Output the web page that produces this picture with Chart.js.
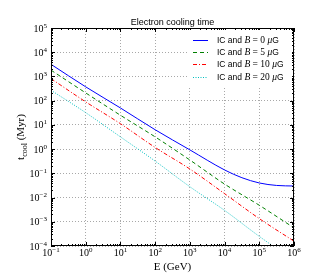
<!DOCTYPE html>
<html><head><meta charset="utf-8">
<script src="https://cdn.jsdelivr.net/npm/chart.js@4"></script>
<style>html,body{margin:0;padding:0;background:#fff}canvas{display:block}</style>
</head><body>
<canvas id="c" width="320" height="280" style="width:320px;height:280px"></canvas>
<script>
// Energies (GeV) at which values were read
const energyGeV = [0.1, 1, 10, 100, 1e3, 1e4, 1e5, 1e6];
const energyBlueGeV = [0.1, 1, 10, 100, 1e3, 1e4, 3.16e4, 1e5, 3.16e5, 1e6];
// Cooling times (Myr)
const tB0 = [3160, 372, 50, 6.3, 0.93, 0.138, 0.066, 0.040, 0.0316, 0.030];
const tB5 = [1820, 209, 25, 3.2, 0.355, 0.036, 0.0048, 0.00056];
const tB10 = [813, 89, 11.2, 1.17, 0.151, 0.0145, 0.00135, 0.000158];
const tB20 = [269, 32, 3.2, 0.32, 0.028, 0.00295, 0.00025, 0.000025];
const fieldLabels = ['0', '5', '10', '20'];
const xTickExponents = [-1, 0, 1, 2, 3, 4, 5, 6];
const yTickExponents = [-4, -3, -2, -1, 0, 1, 2, 3, 4, 5];
const titleText = 'Electron cooling time';

const colors = ['#0000ff', '#008000', '#ff0000', '#00bfbf'];
const dashes = [[], [4, 3], [4, 2, 1, 2], [1, 1.5]];

function pts(xs, ys) { return xs.map((x, i) => ({ x: x, y: ys[i] })); }

const datasets = [
  pts(energyBlueGeV, tB0), pts(energyGeV, tB5), pts(energyGeV, tB10), pts(energyGeV, tB20)
].map((d, i) => ({
  label: 'IC and B = ' + fieldLabels[i] + ' μG',
  data: d,
  borderColor: colors[i],
  borderWidth: 1,
  borderDash: dashes[i],
  pointRadius: 0,
  fill: false,
  cubicInterpolationMode: 'monotone'
}));

function expStr(e) { return String(e).replace('-', '\u2212'); }

function drawRich(ctx, parts, x, y) {
  let cx = x;
  for (const p of parts) {
    ctx.font = p.f;
    ctx.fillText(p.t, cx, y + (p.dy || 0));
    cx += ctx.measureText(p.t).width;
  }
  return cx - x;
}
function richWidth(ctx, parts) {
  let w = 0;
  for (const p of parts) { ctx.font = p.f; w += ctx.measureText(p.t).width; }
  return w;
}

const SERIF = '"Liberation Serif", "DejaVu Serif", serif';
const SANS = '"Liberation Sans", Arial, sans-serif';

const decor = {
  id: 'decor',
  afterDraw(chart) {
    const ctx = chart.ctx, a = chart.chartArea, xs = chart.scales.x, ys = chart.scales.y;
    ctx.save();
    ctx.strokeStyle = '#000';
    ctx.lineWidth = 1;
    ctx.beginPath();
    for (let e = -1; e <= 6; e++) {
      for (let m = 1; m <= 9; m++) {
        if (e === 6 && m > 1) continue;
        const px = Math.round(xs.getPixelForValue(m * Math.pow(10, e))) + 0.5;
        const L = m === 1 ? 4 : 2;
        ctx.moveTo(px, a.bottom); ctx.lineTo(px, a.bottom - L);
        ctx.moveTo(px, a.top); ctx.lineTo(px, a.top + L);
      }
    }
    for (let e = -4; e <= 5; e++) {
      for (let m = 1; m <= 9; m++) {
        if (e === 5 && m > 1) continue;
        const py = Math.round(ys.getPixelForValue(m * Math.pow(10, e))) + 0.5;
        const L = m === 1 ? 4 : 2;
        ctx.moveTo(a.left, py); ctx.lineTo(a.left + L, py);
        ctx.moveTo(a.right, py); ctx.lineTo(a.right - L, py);
      }
    }
    ctx.stroke();
    ctx.strokeRect(a.left + 0.5, a.top + 0.5, a.right - a.left - 1, a.bottom - a.top - 1);

    // tick labels
    ctx.fillStyle = '#000';
    ctx.textBaseline = 'alphabetic';
    ctx.textAlign = 'left';
    for (const e of xTickExponents) {
      const px = xs.getPixelForValue(Math.pow(10, e));
      const parts = [{ t: '10', f: '10px ' + SERIF }, { t: expStr(e), f: '7px ' + SERIF, dy: -4 }];
      const w = richWidth(ctx, parts);
      drawRich(ctx, parts, px - w / 2, 256);
    }
    for (const e of yTickExponents) {
      const py = ys.getPixelForValue(Math.pow(10, e));
      const parts = [{ t: '10', f: '10px ' + SERIF }, { t: expStr(e), f: '7px ' + SERIF, dy: -4 }];
      const w = richWidth(ctx, parts);
      drawRich(ctx, parts, 47 - w, py + 3.5);
    }

    // title
    ctx.font = '9px ' + SANS;
    ctx.textAlign = 'center';
    ctx.fillText(titleText, (a.left + a.right) / 2, 25);
    ctx.textAlign = 'left';

    // x axis label
    {
      const parts = [{ t: 'E (GeV)', f: '11px ' + SERIF }];
      const w = richWidth(ctx, parts);
      drawRich(ctx, parts, (a.left + a.right) / 2 - w / 2, 270);
    }
    // y axis label
    {
      ctx.save();
      ctx.translate(24, (a.top + a.bottom) / 2);
      ctx.rotate(-Math.PI / 2);
      const parts = [{ t: 't', f: '11px ' + SERIF }, { t: 'cool', f: '8px ' + SERIF, dy: 2.5 }, { t: ' (Myr)', f: '11px ' + SERIF }];
      const w = richWidth(ctx, parts);
      drawRich(ctx, parts, -w / 2, 0);
      ctx.restore();
    }

    // legend
    ctx.fillStyle = '#fff';
    ctx.fillRect(189, 30, 103, 56);
    chart.data.datasets.forEach((ds, i) => {
      const y = 39.5 + i * 12.4;
      ctx.save();
      ctx.strokeStyle = ds.borderColor;
      ctx.lineWidth = 1;
      ctx.setLineDash(ds.borderDash);
      ctx.beginPath();
      ctx.moveTo(193, Math.round(y) + 0.5);
      ctx.lineTo(208, Math.round(y) + 0.5);
      ctx.stroke();
      ctx.restore();
      ctx.fillStyle = '#000';
      const parts = [
        { t: 'IC and ', f: '8.5px ' + SANS },
        { t: 'B', f: 'italic 9.5px ' + SERIF },
        { t: ' = ' + fieldLabels[i] + ' ', f: '9.5px ' + SERIF },
        { t: 'μ', f: 'italic 9.5px ' + SERIF },
        { t: 'G', f: '8.5px ' + SANS }
      ];
      drawRich(ctx, parts, 217, y + 3);
    });
    ctx.restore();
  }
};

new Chart(document.getElementById('c'), {
  type: 'line',
  data: { datasets: datasets },
  options: {
    responsive: false,
    animation: false,
    devicePixelRatio: 1,
    layout: { padding: { left: 51, right: 26, top: 28, bottom: 34 } },
    plugins: { legend: { display: false }, title: { display: false }, tooltip: { enabled: false } },
    scales: {
      x: {
        type: 'logarithmic', min: 0.1, max: 1e6,
        afterBuildTicks: s => { s.ticks = xTickExponents.map(e => ({ value: Math.pow(10, e) })); },
        ticks: { display: false },
        grid: { color: '#a8a8a8', lineWidth: 1, drawTicks: false },
        border: { display: false, dash: [1, 2] }
      },
      y: {
        type: 'logarithmic', min: 1e-4, max: 1e5,
        afterBuildTicks: s => { s.ticks = yTickExponents.map(e => ({ value: Math.pow(10, e) })); },
        ticks: { display: false },
        grid: { color: '#a8a8a8', lineWidth: 1, drawTicks: false },
        border: { display: false, dash: [1, 2] }
      }
    }
  },
  plugins: [decor]
});
</script>
</body></html>
